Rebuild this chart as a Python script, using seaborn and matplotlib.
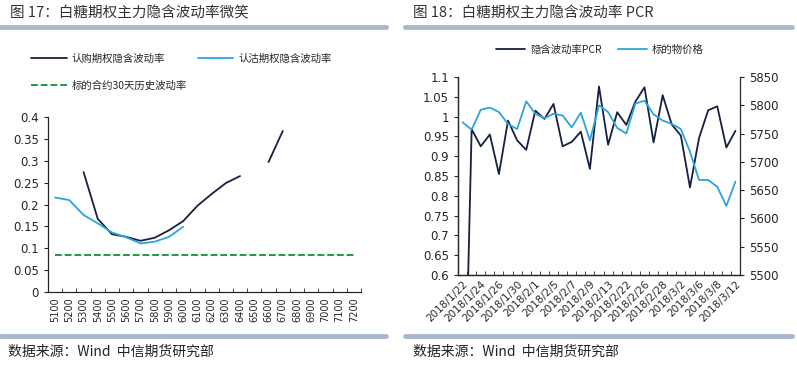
import numpy as np
import pandas as pd
import seaborn as sns
import matplotlib.pyplot as plt
from matplotlib.lines import Line2D
from matplotlib.ticker import FixedLocator

# 图17 数据: 行权价与隐含波动率
strikes = [str(s) for s in range(5100, 7300, 100)]
call_iv = [np.nan, np.nan, 0.274, 0.167, 0.132, 0.126, 0.117, 0.124, 0.141, 0.162,
           0.197, 0.224, 0.249, 0.265, np.nan, 0.297, 0.368,
           np.nan, np.nan, np.nan, np.nan, np.nan]
put_iv = [0.216, 0.210, 0.176, 0.157, 0.136, 0.125, 0.111, 0.115, 0.126, 0.149,
          np.nan, np.nan, np.nan, np.nan, np.nan, np.nan, np.nan,
          np.nan, np.nan, np.nan, np.nan, np.nan]
hist_vol = [0.085] * 22

# 图18 数据: 隐含波动率PCR 与 标的物价格
dates = ['2018/1/22', '2018/1/23', '2018/1/24', '2018/1/25', '2018/1/26', '2018/1/29',
         '2018/1/30', '2018/1/31', '2018/2/1', '2018/2/2', '2018/2/5', '2018/2/6',
         '2018/2/7', '2018/2/8', '2018/2/9', '2018/2/12', '2018/2/13', '2018/2/14',
         '2018/2/22', '2018/2/23', '2018/2/26', '2018/2/27', '2018/2/28', '2018/3/1',
         '2018/3/2', '2018/3/5', '2018/3/6', '2018/3/7', '2018/3/8', '2018/3/9', '2018/3/12']
pcr = [0.0, 0.968, 0.925, 0.955, 0.855, 0.990, 0.940, 0.916, 1.015, 0.994, 1.032,
       0.925, 0.936, 0.962, 0.868, 1.076, 0.929, 1.011, 0.979, 1.038, 1.074, 0.935,
       1.054, 0.980, 0.952, 0.821, 0.946, 1.016, 1.026, 0.922, 0.964]
price = [5770, 5757, 5792, 5796, 5788, 5767, 5758, 5807, 5785, 5777, 5785, 5782,
         5761, 5787, 5738, 5800, 5788, 5760, 5750, 5803, 5808, 5784, 5773, 5767,
         5758, 5718, 5668, 5668, 5656, 5622, 5665]

dark = '#16203f'
light = '#2aa5dc'
green = '#1f9a48'
bar = '#a8b9cf'

sns.set_style('ticks')
plt.rcParams['font.family'] = ['Noto Sans CJK SC', 'DejaVu Sans']
plt.rcParams['axes.linewidth'] = 0.9


def segments(values):
    """ 给每段连续的非空值编号, 空值处断开 """
    s = pd.Series(values)
    return s.isna().cumsum().where(s.notna())


fig = plt.figure(figsize=(7.97, 3.66), dpi=100)

# 标题与分隔条
fig.text(10 / 797, 1 - 13 / 366, '图 17：白糖期权主力隐含波动率微笑', fontsize=10.5,
         color='#333333', va='center', ha='left')
fig.text(413 / 797, 1 - 13 / 366, '图 18：白糖期权主力隐含波动率 PCR', fontsize=10.5,
         color='#333333', va='center', ha='left')
for x0, x1 in [(0, 386), (405, 792)]:
    for y in [27, 336]:
        fig.add_artist(Line2D([x0 / 797, x1 / 797], [1 - y / 366] * 2, color=bar, lw=3.5))
fig.text(8 / 797, 1 - 352 / 366, '数据来源：Wind  中信期货研究部', fontsize=10,
         color='#222222', va='center', ha='left')
fig.text(413 / 797, 1 - 352 / 366, '数据来源：Wind  中信期货研究部', fontsize=10,
         color='#222222', va='center', ha='left')

# ---- 左图 ----
ax1 = fig.add_axes([48 / 797, 1 - 292 / 366, 313 / 797, 175 / 366])
df1 = pd.DataFrame({'x': np.arange(len(strikes)), 'call': call_iv, 'put': put_iv, 'hist': hist_vol})
df1['call_seg'] = segments(call_iv)
df1['put_seg'] = segments(put_iv)
sns.lineplot(data=df1.dropna(subset=['call']), x='x', y='call', units='call_seg', estimator=None,
             ax=ax1, color=dark, lw=1.3)
sns.lineplot(data=df1.dropna(subset=['put']), x='x', y='put', units='put_seg', estimator=None,
             ax=ax1, color=light, lw=1.3)
sns.lineplot(data=df1, x='x', y='hist', ax=ax1, color=green, lw=1.4, linestyle=(0, (3.5, 1.5)))
ax1.set_xlim(-0.5, len(strikes) - 0.5)
ax1.set_ylim(0, 0.4)
yt1 = np.round(np.arange(0, 0.401, 0.05), 2)
ax1.set_yticks(yt1)
ax1.set_yticklabels([f'{v:g}' for v in yt1])
ax1.set_xticks(np.arange(len(strikes)))
ax1.set_xticklabels(strikes, rotation=90, fontsize=7, family='DejaVu Sans')
ax1.xaxis.set_minor_locator(FixedLocator(np.arange(-0.5, len(strikes), 1)))
ax1.tick_params(axis='x', which='major', length=0, pad=4)
ax1.tick_params(axis='x', which='minor', direction='in', length=3)
ax1.tick_params(axis='y', labelsize=8.5, length=3)
for lab in ax1.get_yticklabels():
    lab.set_family('DejaVu Sans')
ax1.set_xlabel('')
ax1.set_ylabel('')
sns.despine(ax=ax1)

h1 = [Line2D([], [], color=dark, lw=1.3), Line2D([], [], color=green, lw=1.4, linestyle=(0, (3.5, 1.5))),
      Line2D([], [], color=light, lw=1.3)]
fig.legend(h1, ['认购期权隐含波动率', '标的合约30天历史波动率', '认沽期权隐含波动率'],
           ncol=2, loc='upper left', bbox_to_anchor=(22 / 797, 1 - 44 / 366), frameon=False,
           fontsize=7.5, handlelength=3.4, labelspacing=1.6, columnspacing=1.0, handletextpad=0.5)

# ---- 右图 ----
ax2 = fig.add_axes([458 / 797, 1 - 275 / 366, 282 / 797, 198 / 366])
df2 = pd.DataFrame({'x': np.arange(len(dates)), 'pcr': pcr, 'price': price})
sns.lineplot(data=df2, x='x', y='pcr', ax=ax2, color=dark, lw=1.3)
ax2.set_ylim(0.6, 1.1)
yt2 = np.round(np.arange(0.6, 1.101, 0.05), 2)
ax2.set_yticks(yt2)
ax2.set_yticklabels([f'{v:g}' for v in yt2])
ax3 = ax2.twinx()
sns.lineplot(data=df2, x='x', y='price', ax=ax3, color=light, lw=1.3)
ax3.set_ylim(5500, 5850)
ax3.set_yticks(np.arange(5500, 5851, 50))
ax2.set_xlim(-0.5, len(dates) - 0.5)
ax2.set_xticks(np.arange(0, len(dates), 2))
ax2.set_xticklabels(dates[::2], rotation=45, ha='right', rotation_mode='anchor', fontsize=7.5,
                    family='DejaVu Sans')
ax2.xaxis.set_minor_locator(FixedLocator(np.arange(-0.5, len(dates), 1)))
ax2.tick_params(axis='x', which='major', length=0, pad=3)
ax2.tick_params(axis='x', which='minor', direction='in', length=3)
ax2.tick_params(axis='y', labelsize=8.5, length=3)
ax3.tick_params(axis='y', labelsize=8.5, length=3)
for lab in ax2.get_yticklabels() + ax3.get_yticklabels():
    lab.set_family('DejaVu Sans')
for a in (ax2, ax3):
    a.set_xlabel('')
    a.set_ylabel('')
    a.spines['top'].set_visible(False)
ax2.spines['right'].set_visible(False)

h2 = [Line2D([], [], color=dark, lw=1.3), Line2D([], [], color=light, lw=1.3)]
fig.legend(h2, ['隐含波动率PCR', '标的物价格'], ncol=2, loc='center',
           bbox_to_anchor=(600 / 797, 1 - 50 / 366), frameon=False, fontsize=7.5,
           handlelength=2.8, columnspacing=1.5, handletextpad=0.5)

fig.savefig('out.png', dpi=100)
